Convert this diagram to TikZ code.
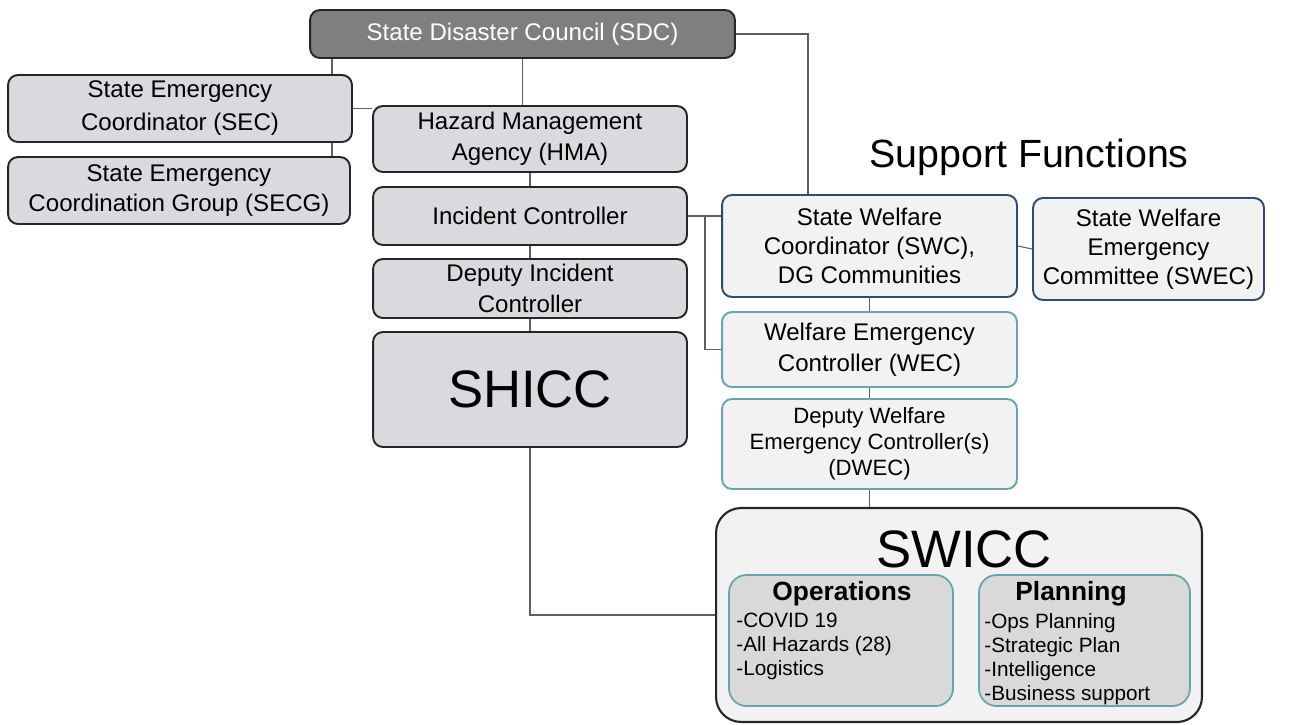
\documentclass[tikz,border=0pt]{standalone}
\usepackage{fontspec}
\setmainfont{Liberation Sans}

\definecolor{sdcgray}{HTML}{7F7F7F}
\definecolor{boxgray}{HTML}{D9D9DE}
\definecolor{paleface}{HTML}{F2F2F2}
\definecolor{navyline}{HTML}{2F4B6E}
\definecolor{tealline}{HTML}{6AA4AB}
\definecolor{linkgray}{HTML}{5F5F5F}

\begin{document}
\begin{tikzpicture}[x=0.02cm,y=-0.02cm,
unitnode/.style={rectangle,rounded corners=0.2cm,draw=black!85,line width=1.1pt,fill=boxgray,align=center,inner sep=2pt,font=\fontsize{13.7}{17.5}\selectfont},
      council/.style={fill=sdcgray,text=white},
      welfare/.style={draw=navyline,fill=paleface},
      welfaresub/.style={draw=tealline,fill=paleface},
      centre/.style={rectangle,rounded corners=0.5cm,draw=black!85,line width=1.2pt,fill=paleface},
      sectbox/.style={rectangle,rounded corners=0.35cm,draw=tealline,line width=1pt,fill=black!15},
      secttitle/.style={font=\bfseries\fontsize{15}{18}\selectfont,inner sep=0pt},
      sectlist/.style={align=left,inner sep=0pt,font=\fontsize{11.8}{13.6}\selectfont},
      link/.style={draw=linkgray,line width=0.6pt}]
\useasboundingbox (0,0) rectangle (1292,724);
      \path

(522.5,34) node [unitnode,council,minimum width=8.5cm,minimum height=0.96cm] (sdc) {State Disaster Council (SDC)}

(180,108.5) node [unitnode,minimum width=6.88cm,minimum height=1.34cm,font=\fontsize{13.7}{18.7}\selectfont] (sec) {State Emergency\\Coordinator (SEC)}
(179,190.5) node [unitnode,minimum width=6.84cm,minimum height=1.34cm] (secg) {State Emergency\\Coordination Group (SECG)}

(530,139) node [unitnode,minimum width=6.28cm,minimum height=1.32cm] (hma) {Hazard Management\\Agency (HMA)}
(530,216) node [unitnode,minimum width=6.28cm,minimum height=1.16cm] (ic) {Incident Controller}
(530,288.5) node [unitnode,minimum width=6.28cm,minimum height=1.18cm] (dic) {Deputy Incident\\Controller}
(530,389.5) node [unitnode,minimum width=6.28cm,minimum height=2.3cm,font=\fontsize{30}{36}\selectfont] (shicc) {SHICC}

(1029,157) node [font=\fontsize{22.4}{26}\selectfont] (support) {Support Functions}

(869.5,246) node [unitnode,welfare,minimum width=5.9cm,minimum height=2.04cm,font=\fontsize{13.7}{16.5}\selectfont] (swc) {State Welfare\\Coordinator (SWC),\\DG Communities}
(1148.5,249) node [unitnode,welfare,minimum width=4.62cm,minimum height=2.04cm,font=\fontsize{13.7}{16.5}\selectfont] (swec) {State Welfare\\Emergency\\Committee (SWEC)}
(869.5,349.5) node [unitnode,welfaresub,minimum width=5.9cm,minimum height=1.5cm] (wec) {Welfare Emergency\\Controller (WEC)}
(869.5,444) node [unitnode,welfaresub,minimum width=5.9cm,minimum height=1.8cm,font=\fontsize{12.6}{14.8}\selectfont] (dwec) {Deputy Welfare\\Emergency Controller(s)\\(DWEC)}

(959,615) node [centre,minimum width=9.72cm,minimum height=4.28cm] (swicc) {}
(964,549) node [font=\fontsize{30}{36}\selectfont,inner sep=0pt] (swicctitle) {SWICC}

(841,640.5) node [sectbox,minimum width=4.48cm,minimum height=2.62cm] (opsbox) {}
(842,594) node [secttitle] (ops) {Operations}
(736,613) node [sectlist,anchor=north west] (opslist) {-COVID 19\\-All Hazards (28)\\-Logistics}

(1084.5,640.5) node [sectbox,minimum width=4.22cm,minimum height=2.62cm] (planbox) {}
(1071,594) node [secttitle] (plan) {Planning}
(984,613) node [sectlist,anchor=north west] (planlist) {-Ops Planning\\-Strategic Plan\\-Intelligence\\-Business support}

(332,0) coordinate (sectap)
(808,0) coordinate (swctap)
(705,0) coordinate (ictap)
      ;
      \draw[link] (sdc.south -| sectap) -- (sec.north -| sectap);
      \draw[link] (sec.south -| sectap) -- (secg.north -| sectap);
      \draw[link] (sec.east) -- (sec.east -| hma.west);
      \draw[link] (sdc.south) -- (sdc.south |- hma.north);
      \draw[link] (hma) -- (ic);
      \draw[link] (ic) -- (dic);
      \draw[link] (dic) -- (shicc);
      \draw[link] (sdc.east) -| (swc.north -| swctap);
      \draw[link] (ic.east) -- (ic.east -| swc.west);
      \draw[link] (ic.east -| ictap) |- (wec.west);
      \draw[link] (swc) -- (wec);
      \draw[link] (wec) -- (dwec);
      \draw[link] (dwec.south) -- (dwec.south |- swicc.north);
      \draw[link] (swc.east) -- (swec.west);
      \draw[link] (shicc.south) |- (swicc.west);
\end{tikzpicture}
\end{document}
